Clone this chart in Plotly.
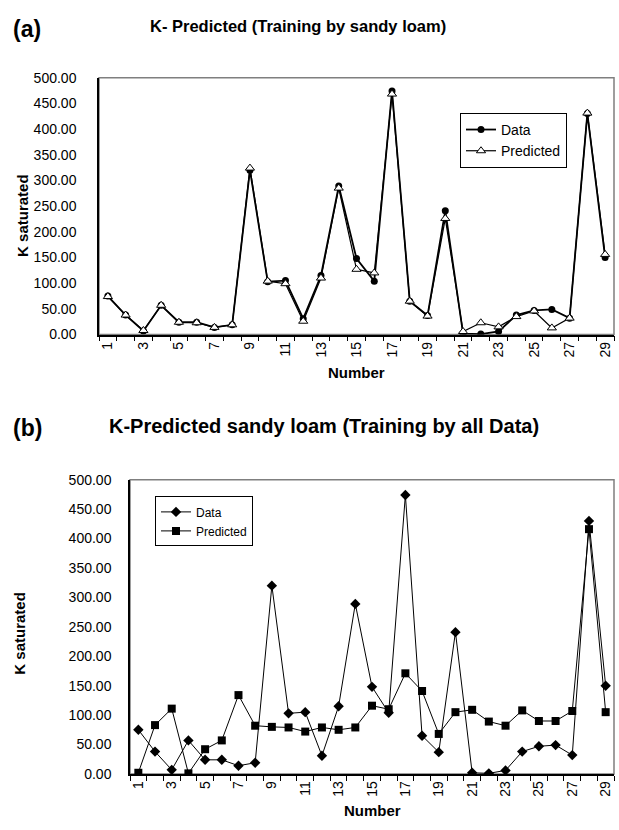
import plotly.graph_objects as go

# ---------------- data ----------------
numbers = list(range(1, 30))
data_k = [75, 38, 7, 57, 24, 24, 14, 19, 320, 103, 105, 31, 115, 289, 148,
          104, 474, 65, 37, 241, 2, 1, 6, 38, 47, 49, 32, 430, 150]
pred_sandy = [74, 38, 8, 57, 24, 23, 14, 19, 324, 104, 99, 26, 110, 285, 127,
              120, 468, 65, 36, 226, 6, 23, 15, 35, 46, 13, 32, 431, 156]
pred_all = [2, 83, 111, 1, 42, 57, 134, 82, 80, 79, 72, 79, 75, 79, 116,
            110, 171, 141, 68, 105, 109, 89, 82, 108, 90, 90, 107, 416, 105]
x_label_vals = list(range(1, 30, 2))
x_label_text = [str(v) for v in x_label_vals]
x_boundaries = [n + 0.5 for n in range(0, 30)]
y_tick_vals = list(range(0, 501, 50))

FONT = "Liberation Sans, Arial, sans-serif"
W, H = 619, 830

fig = go.Figure()

# top chart traces
fig.add_trace(go.Scatter(
    x=numbers, y=data_k, name="Data", mode="lines+markers",
    line=dict(color="black", width=1.8),
    marker=dict(symbol="circle", size=7, color="black"),
    xaxis="x", yaxis="y", legend="legend"))
fig.add_trace(go.Scatter(
    x=numbers, y=pred_sandy, name="Predicted", mode="lines+markers",
    line=dict(color="black", width=1.2),
    marker=dict(symbol="triangle-up", size=8, color="white",
                line=dict(color="black", width=1)),
    xaxis="x", yaxis="y", legend="legend"))

# bottom chart traces
fig.add_trace(go.Scatter(
    x=numbers, y=data_k, name="Data", mode="lines+markers",
    line=dict(color="black", width=1),
    marker=dict(symbol="diamond", size=8, color="black"),
    xaxis="x2", yaxis="y2", legend="legend2"))
fig.add_trace(go.Scatter(
    x=numbers, y=pred_all, name="Predicted", mode="lines+markers",
    line=dict(color="black", width=1),
    marker=dict(symbol="square", size=8, color="black"),
    xaxis="x2", yaxis="y2", legend="legend2"))


def px_x(px):
    return px / W


def px_y(py):
    return 1 - py / H


tick_font = dict(family=FONT, size=14, color="black")


def xaxis_cfg(x0, x1, anchor):
    return dict(
        domain=[px_x(x0), px_x(x1)], anchor=anchor,
        range=[0.5, 29.5], tickmode="array",
        tickvals=x_label_vals, ticktext=x_label_text,
        tickangle=-90, ticks="", tickfont=tick_font,
        minor=dict(tickmode="array", tickvals=x_boundaries, ticks="outside",
                   ticklen=5, tickcolor="black", tickwidth=1, showgrid=False),
        showline=True, linecolor="black", linewidth=1.5,
        showgrid=False, zeroline=False,
    )


def yaxis_cfg(y0, y1, anchor, gap):
    # labels: long invisible ticks push the labels away from the axis
    return dict(
        domain=[px_y(y1), px_y(y0)], anchor=anchor,
        range=[0, 500], tickmode="array", tickvals=y_tick_vals,
        tickformat=".2f", ticks="outside", ticklen=gap,
        tickcolor="rgba(0,0,0,0)", tickfont=tick_font,
        showline=True, linecolor="black", linewidth=1.5,
        showgrid=False, zeroline=False,
    )


def ytick_cfg(y0, y1, anchor, over):
    # short visible tick marks
    return dict(
        domain=[px_y(y1), px_y(y0)], anchor=anchor, overlaying=over,
        range=[0, 500], tickmode="array", tickvals=y_tick_vals,
        ticks="outside", ticklen=4, tickcolor="black", tickwidth=1,
        showticklabels=False, showline=False, showgrid=False, zeroline=False,
    )


TOP = (99, 614, 71, 333)
BOT = (130, 614, 481, 781)

fig.update_layout(
    width=W, height=H, autosize=False,
    margin=dict(l=0, r=0, t=0, b=0),
    paper_bgcolor="white", plot_bgcolor="white",
    font=dict(family=FONT, color="black"),
    xaxis=xaxis_cfg(TOP[0], TOP[1], "y"),
    yaxis=yaxis_cfg(TOP[2], TOP[3], "x", 18),
    yaxis3=ytick_cfg(TOP[2], TOP[3], "x", "y"),
    xaxis2=xaxis_cfg(BOT[0], BOT[1], "y2"),
    yaxis2=yaxis_cfg(BOT[2], BOT[3], "x2", 14),
    yaxis4=ytick_cfg(BOT[2], BOT[3], "x2", "y2"),
    legend=dict(x=px_x(460), y=px_y(107), xanchor="left", yanchor="top",
                bgcolor="white", bordercolor="black", borderwidth=1,
                font=dict(family=FONT, size=14, color="black"),
                itemwidth=30, tracegroupgap=0),
    legend2=dict(x=px_x(155), y=px_y(498), xanchor="left", yanchor="top",
                 bgcolor="white", bordercolor="black", borderwidth=1,
                 font=dict(family=FONT, size=12, color="black"),
                 itemwidth=30, tracegroupgap=0),
    showlegend=True,
)

# gray plot-area frame (top/right), axis lines drawn black over it
for xr, yr in (("x domain", "y domain"), ("x2 domain", "y2 domain")):
    fig.add_shape(type="rect", xref=xr, yref=yr, x0=0, x1=1, y0=0, y1=1,
                  line=dict(color="#7f7f7f", width=1.5), layer="below")


def label(text, x, y, size, angle=0, anchor="center"):
    fig.add_annotation(text=text, x=px_x(x), y=px_y(y), xref="paper",
                       yref="paper", xanchor=anchor, yanchor="middle",
                       textangle=angle, showarrow=False,
                       font=dict(family=FONT, size=size, color="black"))


# axis titles
label("<b>K saturated</b>", 23, 212, 15, angle=-90)
label("<b>Number</b>", 356, 372, 15)
label("<b>K saturated</b>", 20, 638, 15, angle=-90)
label("<b>Number</b>", 372, 818, 15)

# titles and panel labels
label("<b>(a)</b>", 11, 21, 23, anchor="left")
label("<b>K- Predicted (Training by sandy loam)</b>", 298, 18, 16.5)
label("<b>(b)</b>", 11, 428, 23, anchor="left")
label("<b>K-Predicted sandy loam (Training by all Data)</b>", 324, 426, 20)

fig.write_html("out.html")
